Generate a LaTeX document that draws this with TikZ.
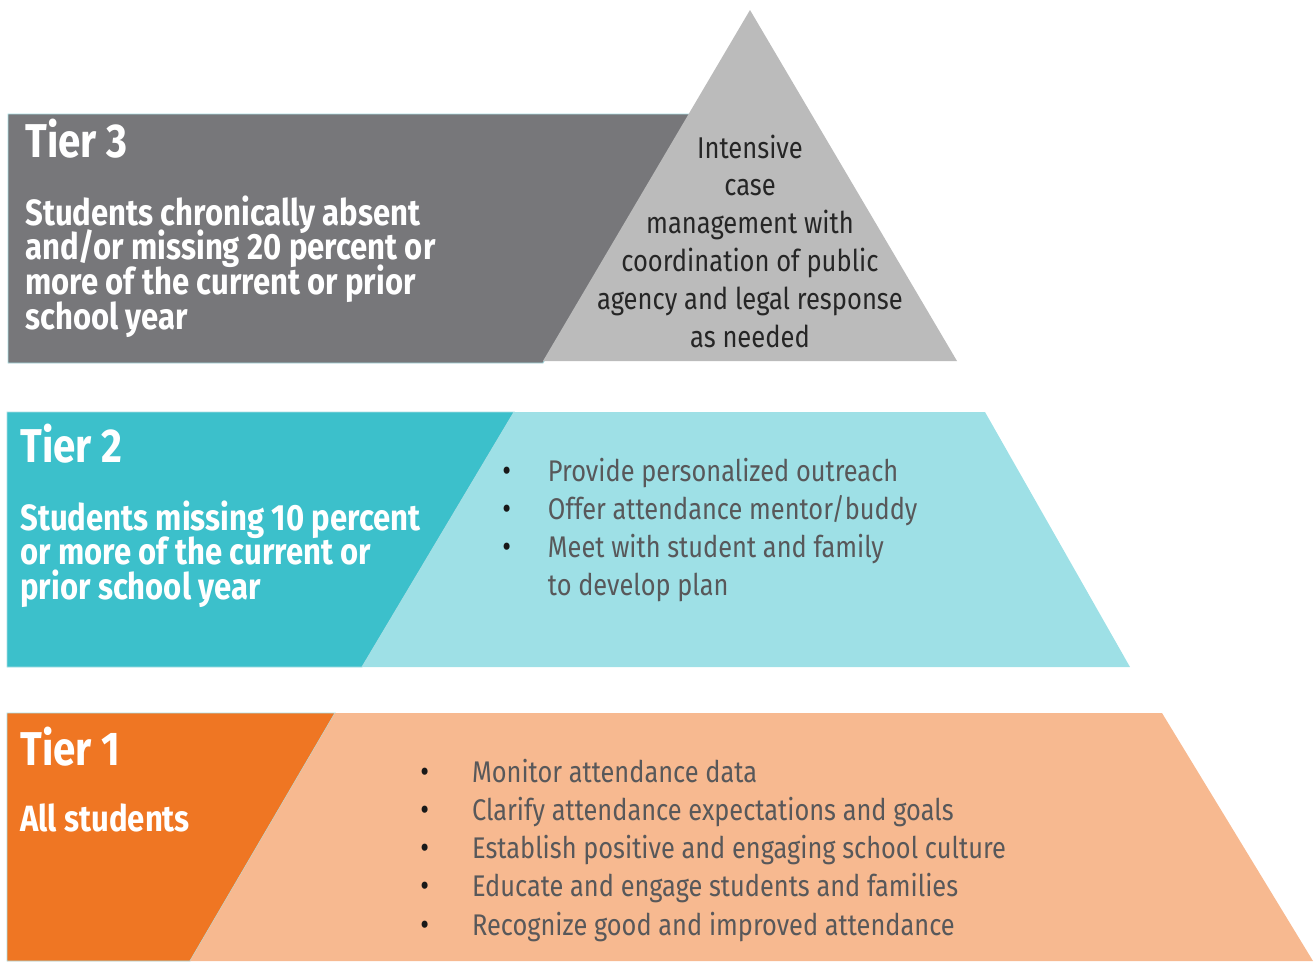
\documentclass[tikz,border=0pt]{standalone}
\usepackage{fontspec}
\setmainfont{Fira Sans}[FakeStretch=0.85]
\definecolor{greydark}{RGB}{119,119,122}
\definecolor{greylight}{RGB}{187,187,187}
\definecolor{tealdark}{RGB}{60,192,203}
\definecolor{teallight}{RGB}{158,224,230}
\definecolor{orangedark}{RGB}{239,118,35}
\definecolor{orangelight}{RGB}{247,185,144}
\definecolor{edgeblue}{RGB}{168,221,227}
\definecolor{txtgray}{RGB}{88,88,90}
\newcommand{\dotmark}{{\color{black!90}\fontsize{18}{18}\selectfont\textbullet}}
% fixed line pitch in the multi-line blocks
\newcommand{\lines}[2]{\parbox[t]{#1}{\lineskiplimit=-30pt\relax#2}}

\begin{document}
\begin{tikzpicture}[x=0.02cm,y=-0.02cm,
    tierhead/.style={anchor=base west,inner sep=0pt,text=white,font=\bfseries\fontsize{27}{27}\selectfont},
    tierdesc/.style={anchor=base west,inner sep=0pt,text=white,font=\bfseries\fontsize{20.8}{19.8}\selectfont},
    steps/.style={anchor=base west,inner sep=0pt,text=txtgray,font=\fontsize{17}{21.8}\selectfont},
    apex/.style={anchor=base,inner sep=0pt,text=black!85,font=\fontsize{17.1}{21.6}\selectfont}]
\useasboundingbox (0,0) rectangle (1315,961);

% tier 3
\fill[greydark,draw=edgeblue,line width=0.5pt] (8,114) -- (690,114) -- (543,363) -- (8,363) -- cycle;
\fill[greylight] (750,10) -- (957,361) -- (543,361) -- cycle;
\node[tierhead] (t3) at (25,157) {Tier 3};
\node[tierdesc] (t3who) at (25,225) {\lines{10cm}{\raggedright
Students chronically absent\\ and/or missing 20 percent or\\
more of the current or prior\\ school year}};
\node[apex] (t3do) at (750,158) {\lines{8cm}{\centering
Intensive\\ case\\ management with\\ coordination of public\\
agency and legal response\\ as needed}};

% tier 2
\fill[tealdark,draw=edgeblue,line width=0.5pt] (7,412) -- (514,412) -- (362,667) -- (7,667) -- cycle;
\fill[teallight] (514,412) -- (985,412) -- (1130,667) -- (362,667) -- cycle;
\node[tierhead] (t2) at (20,462) {Tier 2};
\node[tierdesc] (t2who) at (20,530) {\lines{10cm}{\raggedright
Students missing 10 percent\\ or more of the current or\\
prior school year}};
\node[steps] (t2do) at (502,481) {\begin{tabular}[t]{@{}l@{\hspace{21pt}}l@{}}
\dotmark & Provide personalized outreach\\
\dotmark & Offer attendance mentor/buddy\\
\dotmark & Meet with student and family\\
 & to develop plan\end{tabular}};

% tier 1
\fill[orangedark,draw=edgeblue,line width=0.5pt] (7,713) -- (335,713) -- (190,961) -- (7,961) -- cycle;
\fill[orangelight] (335,713) -- (1162,713) -- (1313,961) -- (190,961) -- cycle;
\node[tierhead] (t1) at (20,765) {Tier 1};
\node[tierdesc] (t1who) at (20,831) {All students};
\node[steps] (t1do) at (420,782) {\begin{tabular}[t]{@{}l@{\hspace{24.5pt}}l@{}}
\dotmark & Monitor attendance data\\
\dotmark & Clarify attendance expectations and goals\\
\dotmark & Establish positive and engaging school culture\\
\dotmark & Educate and engage students and families\\
\dotmark & Recognize good and improved attendance\end{tabular}};
\end{tikzpicture}
\end{document}
